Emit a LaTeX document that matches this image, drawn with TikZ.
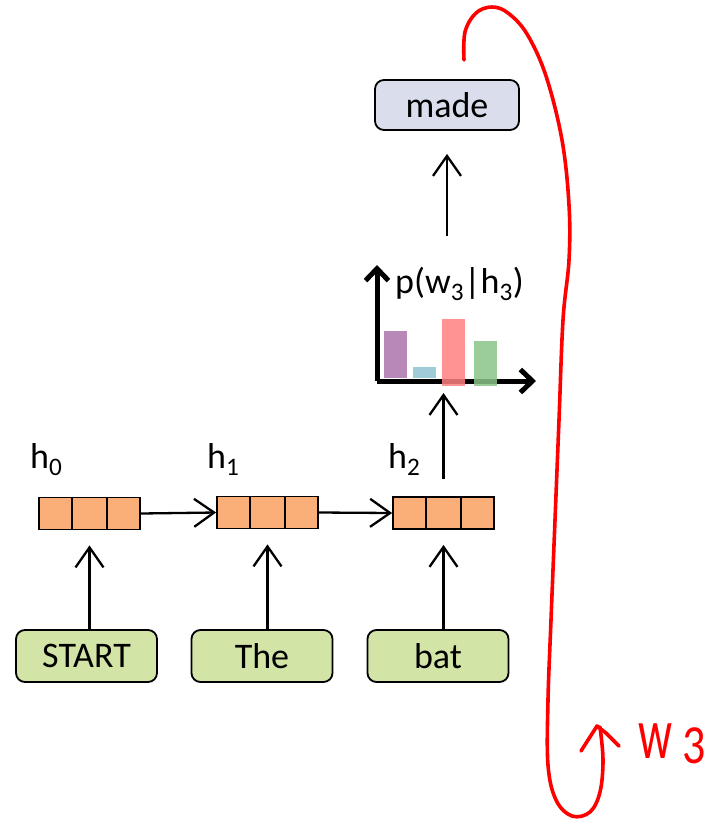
\documentclass[tikz,border=0pt]{standalone}
\usepackage{fontspec}
\setmainfont{Carlito}
\usepackage{tikz}
\usetikzlibrary{calc,positioning,arrows.meta}

\definecolor{wordfill}{RGB}{211,228,167}
\definecolor{outfill}{RGB}{218,222,236}
\definecolor{cellfill}{RGB}{250,175,120}
\definecolor{barA}{RGB}{184,136,184}
\definecolor{barB}{RGB}{160,204,216}
\definecolor{barC}{RGB}{255,128,128}
\definecolor{barD}{RGB}{136,196,136}
\definecolor{inkred}{RGB}{255,0,0}

\tikzset{
  big/.style={font=\fontsize{36}{40}\selectfont},
  word/.style={big, draw, line width=1.8pt, rounded corners=9pt, fill=wordfill,
               minimum width=141pt, minimum height=52pt, inner sep=0pt},
  outword/.style={word, fill=outfill, minimum width=144pt, minimum height=50pt},
  hvec/.style={draw, line width=1.8pt, fill=cellfill, minimum width=101pt,
               minimum height=32pt, inner sep=0pt},
  arr/.style={line width=2.3pt, -{Straight Barb[length=20pt,width=28pt]}},
  axis/.style={line width=5pt, -{Straight Barb[length=12pt,width=23pt]}},
  ink/.style={inkred, line width=3.6pt, line cap=round, line join=round},
}

\begin{document}
\begin{tikzpicture}[x=1pt, y=-1pt]
	 \useasboundingbox (0,0) rectangle (716,823);
	 % words fed in
	 \node[word] (start) at (86.5,656) {START};
	 \node[word] (the) at (262,656) {The};
	 \node[word] (bat) at (438,656) {bat};
	 % hidden states
	 \node[hvec] (hzero) at (89.5,513.5) {};
	 \node[hvec] (hone) at (267.5,512.5) {};
	 \node[hvec] (htwo) at (443.5,513) {};
	 \foreach \h in {hzero,hone,htwo}{
	   \draw[line width=1.8pt] ($(\h.north west)!1/3!(\h.north east)$) -- ($(\h.south west)!1/3!(\h.south east)$);
	   \draw[line width=1.8pt] ($(\h.north west)!2/3!(\h.north east)$) -- ($(\h.south west)!2/3!(\h.south east)$);
	 }
	 \node[big, anchor=base west, inner sep=0pt] (lzero) at (30,468) {h\textsubscript{0}};
	 \node[big, anchor=base west, inner sep=0pt] (lone) at (207,468) {h\textsubscript{1}};
	 \node[big, anchor=base west, inner sep=0pt] (ltwo) at (388,468) {h\textsubscript{2}};
	 % output word
	 \node[outword] (made) at (447,105) {made};
	 % distribution
	 \coordinate (origin) at (377,381);
	 \coordinate (chartTop) at (447,236);
	 \fill[barA] (384,378) rectangle (407,331);
	 \fill[barB] (413,378) rectangle (436,367);
	 \draw[axis] (origin) -- (377,265);
	 \draw[axis] (origin) -- (536,381);
	 \fill[barC, fill opacity=0.85] (442,386) rectangle (465,319);
	 \fill[barD, fill opacity=0.85] (474,386) rectangle (497,341);
	 \node[big, anchor=base west, inner sep=0pt] (dist) at (395,293) {p(w\textsubscript{3}|h\textsubscript{3})};
	 % lines...
	 \draw[arr] (hzero.east) -- (hone.west);
	 \draw[arr] (hone.east) -- (htwo.west);
	 \draw[arr, shorten >=15pt] (hzero.south |- start.north) -- (hzero.south);
	 \draw[arr, shorten >=15pt] (hone.south |- the.north) -- (hone.south);
	 \draw[arr, shorten >=15pt] (htwo.south |- bat.north) -- (htwo.south);
	 \draw[arr, shorten <=17pt, shorten >=12pt] (htwo.north) -- (htwo.north |- origin);
	 \draw[arr, shorten >=23pt] (chartTop) -- (made.south);
	 % feeding the sampled word back in
	 \draw[ink] plot[smooth, tension=0.6] coordinates {(464,60) (465,32) (476,13) (492,7) (508,13) (527,34) (546,76) (562,140) (569,205) (569,260) (563,320) (559,420) (555,520) (551,620) (548,700) (548,765) (556,800) (572,816) (590,812) (600,792) (603,760) (600,727)};
	 \draw[ink] (581,751) -- (597,726) -- (606,733) -- (619,746);
	 \node[inkred, anchor=base west, inner sep=0pt, font=\fontsize{56}{60}\selectfont] (wthree) at (638,758) {\scalebox{0.85}[1.3]{w}\hspace{10pt}\raisebox{-5pt}{\scalebox{1}[1.2]{\fontsize{46}{50}\selectfont 3}}};
\end{tikzpicture}
\end{document}
